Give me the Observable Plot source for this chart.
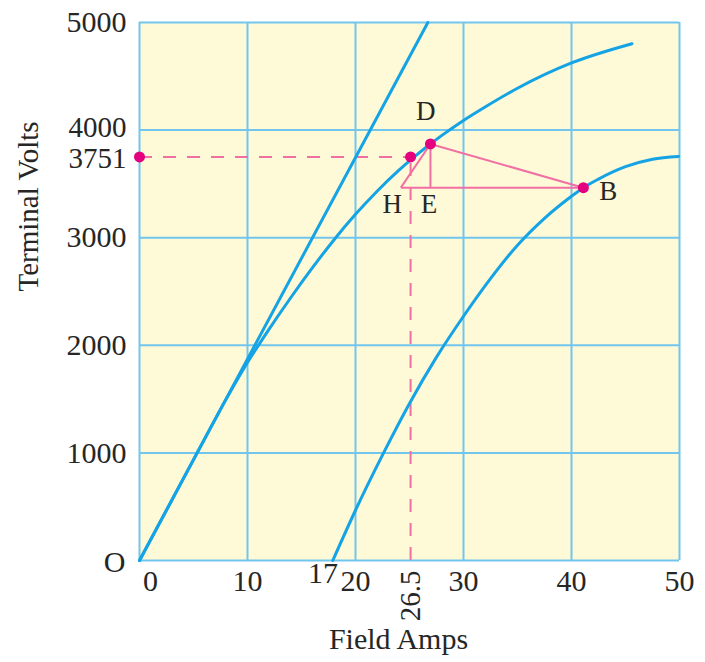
<!DOCTYPE html>
<html>
<head>
<meta charset="utf-8">
<script src="https://cdn.jsdelivr.net/npm/d3@7"></script>
<script src="https://cdn.jsdelivr.net/npm/@observablehq/plot@0.6"></script>
<style>
  html, body { margin: 0; padding: 0; background: #ffffff; }
  #chart svg { display: block; }
</style>
</head>
<body>
<div id="chart"></div>
<script>
// ---- data ----
// straight (air-gap) line
const airI = [0, 26.7];
const airV = [0, 5000];
// open circuit characteristic
const occI = [0, 5.2, 8, 10, 12, 14, 16, 18, 20, 22, 24, 26, 26.94, 28, 30, 32, 35, 40, 45.6];
const occV = [0, 975, 1495, 1840, 2150, 2442, 2719, 2979, 3217, 3432, 3625, 3797, 3871, 3951, 4090, 4215, 4389, 4624, 4803];
// shifted characteristic through B
const shiftI = [17.9, 20, 22.6, 25, 27.5, 30, 32.5, 35, 37.5, 40, 41.1, 42.5, 45, 47.5, 49.9];
const shiftV = [0, 467, 1000, 1460, 1890, 2270, 2620, 2930, 3180, 3385, 3465, 3545, 3660, 3730, 3755];

// named points
const pointNames = ["D", "E", "H", "B"];
const pointI = [26.94, 26.94, 24.2, 41.1];
const pointV = [3871, 3465, 3465, 3465];
// operating point (terminal volts 3751)
const opI = 25.1;
const opV = 3751;

// ticks
const xTickValues = [10, 20, 30, 40, 50];
const yTickValues = [1000, 2000, 3000, 5000];
const gridX = [0, 10, 20, 30, 40, 50];
const gridY = [0, 1000, 2000, 3000, 4000, 5000];

// ---- build tables ----
const air = airI.map((x, i) => ({x, y: airV[i]}));
const occ = occI.map((x, i) => ({x, y: occV[i]}));
const shift = shiftI.map((x, i) => ({x, y: shiftV[i]}));
const P = Object.fromEntries(pointNames.map((n, i) => [n, {x: pointI[i], y: pointV[i]}]));
const triangle = [
  [P.D, P.B], [P.D, P.H], [P.D, P.E], [P.H, P.B]
].map(([a, b]) => ({x1: a.x, y1: a.y, x2: b.x, y2: b.y}));
const dots = [{x: 0, y: opV}, {x: opI, y: opV}, P.D, P.B];

const serif = "'Liberation Serif', 'Times New Roman', serif";
const gridColor = "#72c6ee";
const curveColor = "#14a3e4";
const pink = "#f070a4";
const magenta = "#e4007f";
const textColor = "#262626";

const chart = Plot.plot({
  width: 705,
  height: 662,
  marginLeft: 139,
  marginRight: 26,
  marginTop: 22,
  marginBottom: 102,
  x: {domain: [0, 50], axis: null},
  y: {domain: [0, 5000], axis: null},
  style: {fontFamily: serif, background: "transparent", overflow: "visible"},
  marks: [
    Plot.frame({fill: "#fef9d6", stroke: null}),
    Plot.ruleX(gridX, {stroke: gridColor, strokeWidth: 2}),
    Plot.ruleY(gridY, {stroke: gridColor, strokeWidth: 2}),
    // dashed construction lines
    Plot.ruleY([opV], {x1: 0, x2: opI, stroke: pink, strokeWidth: 2, strokeDasharray: "13,11"}),
    Plot.ruleX([opI], {y1: 0, y2: opV, stroke: pink, strokeWidth: 2, strokeDasharray: "13,11"}),
    // curves
    Plot.line(air, {x: "x", y: "y", stroke: curveColor, strokeWidth: 3}),
    Plot.line(occ, {x: "x", y: "y", stroke: curveColor, strokeWidth: 3, curve: "monotone-x"}),
    Plot.line(shift, {x: "x", y: "y", stroke: curveColor, strokeWidth: 3, curve: "monotone-x"}),
    // triangle
    Plot.link(triangle, {x1: "x1", y1: "y1", x2: "x2", y2: "y2", stroke: pink, strokeWidth: 2}),
    Plot.dot(dots, {x: "x", y: "y", r: 5.5, fill: magenta, stroke: null}),
    // point labels
    Plot.text([{t: "D", x: 26.5, y: 4170}, {t: "H", x: 23.4, y: 3313}, {t: "E", x: 26.8, y: 3313}, {t: "B", x: 43.4, y: 3435}],
      {x: "x", y: "y", text: "t", fontSize: 27, fill: textColor}),
    // y tick labels
    Plot.text(yTickValues, {x: 0, y: d => d, text: d => String(d), textAnchor: "end", dx: -13, fontSize: 30, fill: textColor}),
    Plot.text([4000], {x: 0, y: d => d, text: d => String(d), textAnchor: "end", dx: -13, dy: -2, fontSize: 29, fill: textColor}),
    Plot.text([opV], {x: 0, y: d => d, text: d => String(d), textAnchor: "end", dx: -13, dy: 2, fontSize: 29, fill: textColor}),
    Plot.text(["O"], {x: 0, y: 0, dx: -25, dy: 2, fontSize: 30, fill: textColor}),
    // x tick labels
    Plot.text(xTickValues, {x: d => d, y: 0, text: d => String(d), dy: 21, fontSize: 30, fill: textColor}),
    Plot.text(["0"], {x: 0, y: 0, dx: 11, dy: 21, fontSize: 30, fill: textColor}),
    Plot.text(["17"], {x: 17, y: 0, dy: 13, fontSize: 30, fill: textColor}),
    Plot.text(["26.5"], {x: opI, y: 0, dy: 10, rotate: -90, textAnchor: "end", fontSize: 29, fill: textColor}),
    // axis titles
    Plot.text(["Field Amps"], {frameAnchor: "bottom", dy: 88, dx: -11, fontSize: 30, fill: textColor}),
    Plot.text(["Terminal Volts"], {frameAnchor: "left", dx: -111, rotate: -90, fontSize: 29, fill: textColor})
  ]
});
document.getElementById("chart").append(chart);
</script>
</body>
</html>
